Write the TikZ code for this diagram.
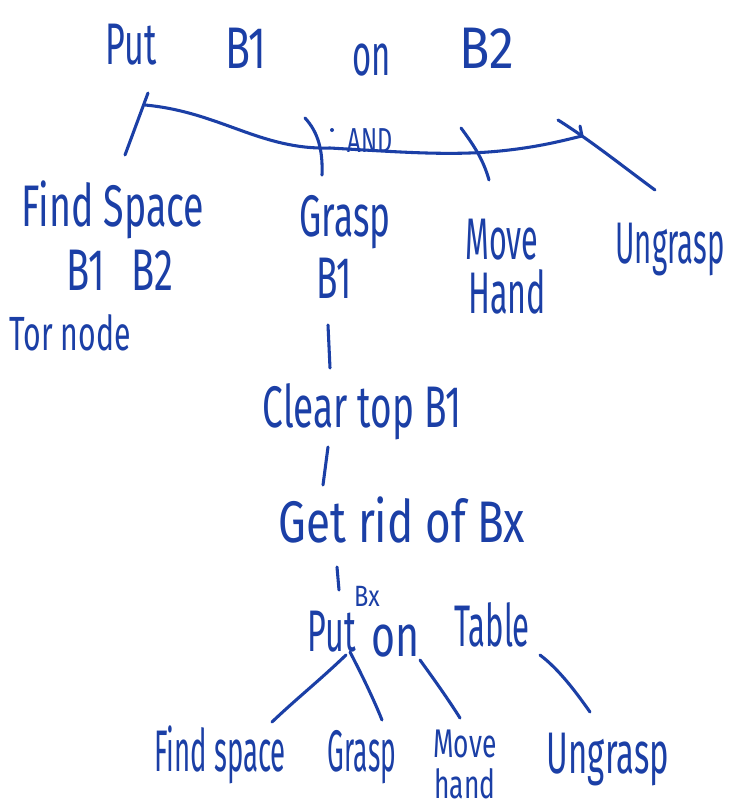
\documentclass[tikz,border=0pt]{standalone}
\usepackage{fontspec}
\usepackage{graphicx}
\setmainfont{Fira Sans}
\definecolor{ink}{HTML}{1B3FA6}
% narrow a word horizontally, handwriting style
\newcommand\squeeze[2][0.6]{\scalebox{#1}[1]{#2}}
\tikzset{
  hand/.style={text=ink,inner sep=0pt,font=\fontsize{44}{48}\selectfont},
  midhand/.style={hand,font=\fontsize{36}{40}\selectfont},
  lowhand/.style={hand,font=\fontsize{30}{34}\selectfont},
  smallhand/.style={hand,font=\fontsize{26}{30}\selectfont},
  tinyhand/.style={hand,font=\fontsize{22}{24}\selectfont},
  pen/.style={draw=ink,line width=2.3pt,line cap=round,line join=round}
}
\begin{document}
\begin{tikzpicture}[x=0.75pt,y=-0.75pt]
\useasboundingbox[fill=white] (0,0) rectangle (732,808);

% goal
\node[hand] (put)  at (131,45) {\squeeze[0.58]{Put}};
\node[hand] (b1)   at (246,48) {\squeeze[0.7]{B1}};
\node[hand] (on)   at (372,60) {\squeeze[0.56]{on}};
\node[hand] (b2)   at (487,48) {\squeeze[0.85]{B2}};

% first level of subgoals
\node[hand] (findspace) at (113,210) {\squeeze[0.64]{Find Space}};
\node[hand] (fsargs)    at (120,270) {\squeeze[0.65]{B1\hspace{0.7em}B2}};
\node[midhand] (topnode) at (70,333) {\squeeze[0.63]{Tor node}};
\node[hand] (grasp)   at (345,222) {\squeeze[0.6]{Grasp}};
\node[hand] (graspb1) at (334,278) {\squeeze[0.6]{B1}};
\node[hand] (move)    at (502,240) {\squeeze[0.52]{Move}};
\node[hand] (hand)    at (507,292) {\squeeze[0.55]{Hand}};
\node[hand] (ungrasp) at (670,250) {\squeeze[0.5]{Ungrasp}};
\node[smallhand] (andlabel) at (370,141) {\squeeze[0.68]{AND}};

% chain under Grasp
\node[hand] (cleartop) at (362,412) {\squeeze[0.63]{Clear top B1}};
\node[hand] (getrid)   at (402,520) {\squeeze[0.75]{Get rid of Bx}};
\node[hand] (puttwo)   at (332,632) {\squeeze[0.55]{Put}};
\node[tinyhand] (bx)   at (367,596) {\squeeze[0.8]{Bx}};
\node[hand] (ontwo)    at (396,641) {\squeeze[0.7]{on}};
\node[hand] (table)    at (492,625) {\squeeze[0.53]{Table}};

% second level of subgoals
\node[hand] (fstwo)      at (220,755) {\squeeze[0.47]{Find space}};
\node[hand] (grasptwo)   at (362,757) {\squeeze[0.45]{Grasp}};
\node[lowhand] (movetwo) at (465,744) {\squeeze[0.66]{Move}};
\node[lowhand] (handtwo) at (465,784) {\squeeze[0.66]{hand}};
\node[hand] (ungrasptwo) at (608,760) {\squeeze[0.56]{Ungrasp}};

% connector end points
\coordinate (puttop)  at (148,93);
\coordinate (fstop)   at (125,155);
\coordinate (arcL)    at (145,105);
\coordinate (arcR)    at (582,136);
\coordinate (arcHook) at (580,126);
\coordinate (gtop)    at (305,118);
\coordinate (gbot)    at (322,175);
\coordinate (mtop)    at (461,128);
\coordinate (mbot)    at (489,180);
\coordinate (utop)    at (558,120);
\coordinate (ubot)    at (655,190);
\coordinate (andDot)  at (332,130);

\draw[pen] (puttop) -- (fstop);
\draw[pen] (arcL) .. controls (220,112) and (260,150) .. (330,148)
           .. controls (400,152) and (450,156) .. (500,151)
           .. controls (540,147) and (565,140) .. (arcR) -- (arcHook);
\draw[pen] (gtop) .. controls (318,132) and (323,150) .. (gbot);
\draw[pen] (mtop) .. controls (476,148) and (484,162) .. (mbot);
\draw[pen] (utop) .. controls (590,140) and (625,168) .. (ubot);
\fill[ink] (andDot) circle (2);

% vertical links down the chain
\coordinate (c1a) at (328,325); \coordinate (c1b) at (330,368);
\coordinate (c2a) at (328,447); \coordinate (c2b) at (323,485);
\coordinate (c3a) at (337,567); \coordinate (c3b) at (339,590);
\draw[pen] (c1a) -- (c1b);
\draw[pen] (c2a) -- (c2b);
\draw[pen] (c3a) -- (c3b);

% Put Bx on Table expansion
\coordinate (p1a) at (346,655); \coordinate (p1b) at (272,722);
\coordinate (p2a) at (350,652); \coordinate (p2b) at (382,720);
\coordinate (p3a) at (420,660); \coordinate (p3b) at (460,718);
\coordinate (p4a) at (540,655); \coordinate (p4b) at (590,712);
\draw[pen] (p1a) .. controls (320,680) and (295,700) .. (p1b);
\draw[pen] (p2a) .. controls (362,675) and (374,700) .. (p2b);
\draw[pen] (p3a) .. controls (436,682) and (450,702) .. (p3b);
\draw[pen] (p4a) .. controls (560,670) and (578,695) .. (p4b);
\end{tikzpicture}
\end{document}
